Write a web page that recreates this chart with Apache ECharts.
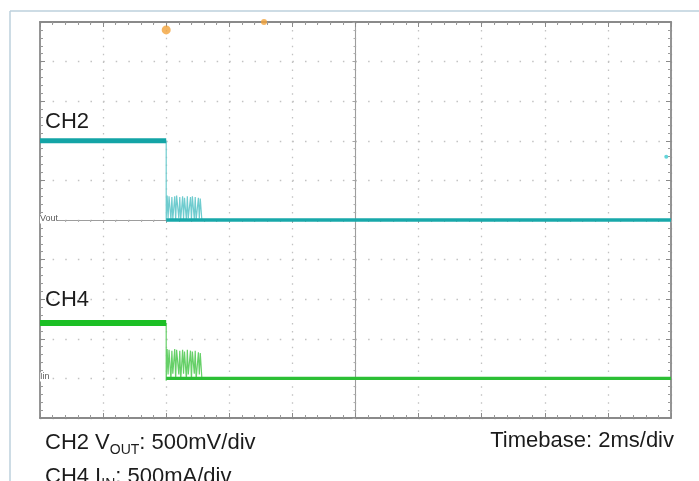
<!DOCTYPE html>
<html>
<head>
<meta charset="utf-8">
<script src="https://cdn.jsdelivr.net/npm/echarts@6/dist/echarts.min.js"></script>
<style>
html,body{margin:0;padding:0;background:#fff;}
#chart{width:699px;height:481px;}
</style>
</head>
<body>
<div id="chart"></div>
<script>
// ---- Data (time in ms, CH2 in volts, CH4 in amps) ----
const timeRange = [0, 20];          // 10 div x 2 ms/div
const ch2Range = [-2.5, 2.5];       // 500 mV/div, 10 div
const ch4Range = [-0.5, 4.5];       // 500 mA/div, 10 div
const divRange = [-5, 5];

const ch2OnTime = [0, 4.0];
const ch2OnVolts = [1.0, 1.0];
const ch2OffTime = [4.0, 20];
const ch2OffVolts = [0, 0];
const ch2RingTime = [4.00, 4.00, 4.03, 4.06, 4.09, 4.15, 4.18, 4.21, 4.27, 4.30, 4.33, 4.40, 4.43, 4.46, 4.52, 4.55, 4.58, 4.64, 4.67, 4.70, 4.77, 4.80, 4.83, 4.89, 4.92, 4.95, 5.02, 5.05, 5.08, 5.13];
const ch2RingVolts = [1.00, 0.00, 0.31, 0.02, 0.30, 0.00, 0.29, 0.01, 0.30, 0.00, 0.31, 0.02, 0.29, 0.00, 0.30, 0.01, 0.28, 0.00, 0.30, 0.02, 0.29, 0.00, 0.30, 0.01, 0.29, 0.00, 0.28, 0.02, 0.27, 0.00];

const ch4OnTime = [0, 4.0];
const ch4OnAmps = [0.70, 0.70];
const ch4OffTime = [4.0, 20];
const ch4OffAmps = [0, 0];
const ch4RingTime = [4.00, 4.00, 4.03, 4.06, 4.09, 4.15, 4.18, 4.21, 4.27, 4.30, 4.33, 4.40, 4.43, 4.46, 4.52, 4.55, 4.58, 4.64, 4.67, 4.70, 4.77, 4.80, 4.83, 4.89, 4.92, 4.95, 5.02, 5.05, 5.08, 5.13];
const ch4RingAmps = [0.70, -0.03, 0.37, 0.05, 0.36, -0.02, 0.35, 0.06, 0.37, -0.01, 0.36, 0.05, 0.35, -0.02, 0.36, 0.06, 0.34, -0.01, 0.36, 0.05, 0.35, -0.02, 0.34, 0.06, 0.35, -0.01, 0.33, 0.05, 0.32, 0.00];

const triggerPosMarker = [[4.0, 2.4]];
const timeRefMarker = [[7.1, 2.5]];
const triggerLevelMarker = [[19.85, 0.8]];

const channelNames = ['CH2', 'CH4'];
const scaleTexts = ['CH2 V', 'OUT', ': 500mV/div', 'CH4 I', 'IN', ': 500mA/div'];
const timebaseText = 'Timebase: 2ms/div';
const traceTags = ['Vout', 'Iin'];

// ---- helpers ----
const zip = (a, b) => a.map((v, i) => [v, b[i]]);
const FONT = '"Liberation Sans", Arial, Helvetica, sans-serif';
const frameColor = '#8a8a8a';

function frameAxis(extra) {
  return Object.assign({
    type: 'value',
    axisLabel: { show: false },
    axisLine: { show: true, onZero: false, lineStyle: { color: frameColor, width: 1.8 } },
    axisTick: { show: true, inside: true, length: 5, lineStyle: { color: frameColor } },
    minorTick: { show: true, splitNumber: 5, length: 3, lineStyle: { color: '#999' } },
    splitLine: { show: false }
  }, extra);
}

const chart = echarts.init(document.getElementById('chart'));
const gridRect = { left: 40, top: 22, width: 631, height: 396 };

chart.setOption({
  animation: false,
  backgroundColor: '#fff',
  grid: [
    Object.assign({ show: false }, gridRect),
    Object.assign({ show: false }, gridRect)
  ],
  xAxis: [
    frameAxis({ gridIndex: 0, position: 'bottom', min: timeRange[0], max: timeRange[1], interval: 2,
      splitLine: { show: true, lineStyle: { color: '#c2c2c2', width: 1.3, type: [1.5, 6.42] } } }),
    frameAxis({ gridIndex: 0, position: 'top', min: timeRange[0], max: timeRange[1], interval: 2 }),
    {
      type: 'value', gridIndex: 1, min: divRange[0], max: divRange[1], interval: 1,
      axisLabel: { show: false },
      axisLine: { show: true, onZero: true, lineStyle: { color: '#9d9d9d', width: 1.1 } },
      axisTick: { show: true, length: 3, lineStyle: { color: '#a5a5a5' } },
      minorTick: { show: true, splitNumber: 5, length: 2, lineStyle: { color: '#b0b0b0' } },
      splitLine: { show: false }
    }
  ],
  yAxis: [
    frameAxis({ gridIndex: 0, position: 'left', min: ch2Range[0], max: ch2Range[1], interval: 0.5,
      splitLine: { show: true, lineStyle: { color: '#c2c2c2', width: 1.3, type: [1.5, 11.12] } } }),
    frameAxis({ gridIndex: 0, position: 'right', min: ch4Range[0], max: ch4Range[1], interval: 0.5 }),
    {
      type: 'value', gridIndex: 1, min: divRange[0], max: divRange[1], interval: 1,
      axisLabel: { show: false },
      axisLine: { show: true, onZero: true, lineStyle: { color: '#9d9d9d', width: 1.1 } },
      axisTick: { show: true, length: 3, lineStyle: { color: '#a5a5a5' } },
      minorTick: { show: true, splitNumber: 5, length: 2, lineStyle: { color: '#b0b0b0' } },
      splitLine: { show: false }
    }
  ],
  series: [
    { type: 'line', xAxisIndex: 0, yAxisIndex: 0, data: zip(ch2RingTime, ch2RingVolts), showSymbol: false,
      lineStyle: { color: '#6fcccf', width: 1.2 }, z: 3 },
    { type: 'line', xAxisIndex: 0, yAxisIndex: 0, data: zip(ch2OnTime, ch2OnVolts), showSymbol: false,
      lineStyle: { color: '#13a4a6', width: 5 }, z: 4 },
    { type: 'line', xAxisIndex: 0, yAxisIndex: 0, data: zip(ch2OffTime, ch2OffVolts), showSymbol: false,
      lineStyle: { color: '#18a8aa', width: 3.5 }, z: 4 },
    { type: 'line', xAxisIndex: 0, yAxisIndex: 1, data: zip(ch4RingTime, ch4RingAmps), showSymbol: false,
      lineStyle: { color: '#66d068', width: 1.2 }, z: 3 },
    { type: 'line', xAxisIndex: 0, yAxisIndex: 1, data: zip(ch4OnTime, ch4OnAmps), showSymbol: false,
      lineStyle: { color: '#1cbf25', width: 6 }, z: 4 },
    { type: 'line', xAxisIndex: 0, yAxisIndex: 1, data: zip(ch4OffTime, ch4OffAmps), showSymbol: false,
      lineStyle: { color: '#2cbf35', width: 3.2 }, z: 4 },
    { type: 'scatter', xAxisIndex: 0, yAxisIndex: 0, data: triggerPosMarker, symbol: 'circle', symbolSize: 9,
      itemStyle: { color: '#f2a33a' }, z: 5 },
    { type: 'scatter', xAxisIndex: 0, yAxisIndex: 0, data: timeRefMarker, symbol: 'circle', symbolSize: 6,
      itemStyle: { color: '#f2a33a' }, z: 5 },
    { type: 'scatter', xAxisIndex: 0, yAxisIndex: 0, data: triggerLevelMarker, symbol: 'circle', symbolSize: 4,
      itemStyle: { color: '#3cc9d0' }, z: 5 }
  ],
  graphic: [
    { type: 'line', shape: { x1: 10, y1: 11, x2: 699, y2: 11 }, style: { stroke: '#bcd0dc', lineWidth: 1.5 }, silent: true },
    { type: 'line', shape: { x1: 10, y1: 11, x2: 10, y2: 481 }, style: { stroke: '#bcd0dc', lineWidth: 1.5 }, silent: true },
    { type: 'text', x: 45, y: 122, style: { text: channelNames[0], font: '22px ' + FONT, fill: '#1c1c1c', verticalAlign: 'middle' } },
    { type: 'text', x: 45, y: 300, style: { text: channelNames[1], font: '22px ' + FONT, fill: '#1c1c1c', verticalAlign: 'middle' } },
    { type: 'text', x: 40, y: 219, style: { text: traceTags[0], font: '9px ' + FONT, fill: '#5a5a5a', verticalAlign: 'middle', backgroundColor: '#fff' }, z: 10 },
    { type: 'text', x: 40, y: 377, style: { text: traceTags[1], font: '9px ' + FONT, fill: '#5a5a5a', verticalAlign: 'middle', backgroundColor: '#fff' }, z: 10 },
    { type: 'text', x: 45, y: 443, style: {
        text: '{a|' + scaleTexts[0] + '}{s|' + scaleTexts[1] + '}{a|' + scaleTexts[2] + '}',
        verticalAlign: 'middle',
        rich: {
          a: { fontSize: 22, fontFamily: FONT, fill: '#1c1c1c' },
          s: { fontSize: 14, fontFamily: FONT, fill: '#1c1c1c', padding: [15, 0, 0, 0] }
        } } },
    { type: 'text', x: 45, y: 477, style: {
        text: '{a|' + scaleTexts[3] + '}{s|' + scaleTexts[4] + '}{a|' + scaleTexts[5] + '}',
        verticalAlign: 'middle',
        rich: {
          a: { fontSize: 22, fontFamily: FONT, fill: '#1c1c1c' },
          s: { fontSize: 14, fontFamily: FONT, fill: '#1c1c1c', padding: [15, 0, 0, 0] }
        } } },
    { type: 'text', x: 674, y: 441, style: { text: timebaseText, font: '22px ' + FONT, fill: '#1c1c1c', align: 'right', verticalAlign: 'middle' } }
  ]
});
</script>
</body>
</html>
